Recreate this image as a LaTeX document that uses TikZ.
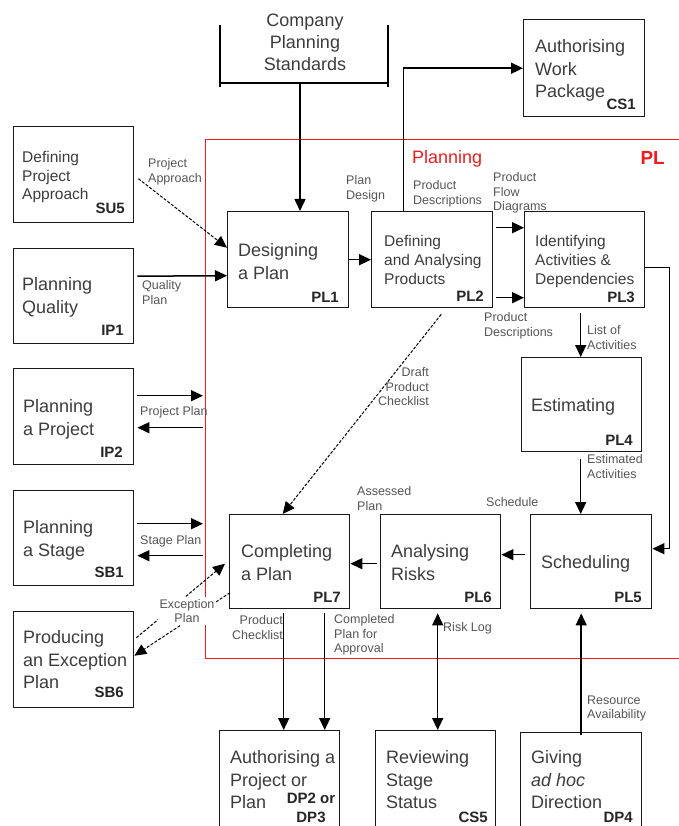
\documentclass[tikz,border=0pt]{standalone}
\usepackage{fontspec}
\setmainfont{Liberation Sans}
\usetikzlibrary{arrows.meta}
\definecolor{txt}{HTML}{3C3C3C}
\definecolor{lbl}{HTML}{555555}
\definecolor{frame}{HTML}{F01C1C}
\begin{document}
\begin{tikzpicture}[x=1pt,y=-1pt,
  box/.style={draw=black!90, line width=1.4pt, anchor=north west, inner sep=0pt},
  big/.style={inner sep=0pt, anchor=north west, text=txt, align=left, font=\fontsize{18}{22.3}\selectfont},
  mid/.style={inner sep=0pt, anchor=north west, text=txt, align=left, font=\fontsize{15.5}{18.7}\selectfont},
  code/.style={inner sep=0pt, anchor=east, text=black!85, font=\bfseries\fontsize{15}{19.5}\selectfont},
  lab/.style={inner sep=0pt, anchor=north west, text=lbl, align=left, font=\fontsize{12.5}{14.5}\selectfont},
  tip/.tip={Triangle[length=12pt,width=11pt]},
  arr/.style={line width=1.5pt, -tip},
  dsh/.style={line width=1pt, dash pattern=on 3pt off 1.6pt},
]
\useasboundingbox (0,0) rectangle (678,826);

% Planning process frame
\node[box, draw=frame, line width=1.3pt, minimum width=520, minimum height=519] (plframe) at (205,139) {};
\node[inner sep=0pt, anchor=north west, text=frame, font=\fontsize{18}{22}\selectfont] (plname) at (412,150.5) {Planning};
\node[inner sep=0pt, anchor=east, text=frame, font=\bfseries\fontsize{19}{22}\selectfont] (plcode) at (665,158) {PL};

% Company Planning Standards bracket
\node[inner sep=0pt, anchor=north, text=txt, align=center, font=\fontsize{18}{22.3}\selectfont] (cps) at (305,13.5) {Company\\Planning\\Standards};
\draw[line width=2.6pt] (220,25) -- (220,87) (388,25) -- (388,87);
\draw[line width=2.2pt] (220,83) -- (388,83);
\coordinate (cpsfoot) at (300,84);

% Process boxes
\node[box, minimum width=120, minimum height=96] (su5) at (13,126) {};
\node[box, minimum width=120, minimum height=95] (ip1) at (13,248) {};
\node[box, minimum width=120, minimum height=96] (ip2) at (13,368) {};
\node[box, minimum width=120, minimum height=95] (sb1) at (13,490) {};
\node[box, minimum width=120, minimum height=96] (sb6) at (13,611) {};
\node[box, minimum width=121, minimum height=97] (cs1) at (523,19) {};
\node[box, minimum width=121, minimum height=96] (pl1) at (227,211) {};
\node[box, minimum width=121, minimum height=96] (pl2) at (371,211) {};
\node[box, minimum width=120, minimum height=96] (pl3) at (524,211) {};
\node[box, minimum width=120, minimum height=94] (pl4) at (521,357) {};
\node[box, minimum width=121, minimum height=94] (pl5) at (530,514) {};
\node[box, minimum width=120, minimum height=94] (pl6) at (380,514) {};
\node[box, minimum width=120, minimum height=94] (pl7) at (229,514) {};
\node[box, minimum width=120, minimum height=120] (dp23) at (219,730) {};
\node[box, minimum width=120, minimum height=120] (cs5) at (375,730) {};
\node[box, minimum width=121, minimum height=120] (dp4) at (520,732) {};

% Box titles
\node[mid] (su5t) at (22,151) {Defining\\Project\\Approach};
\node[big] (ip1t) at (22,277.5) {Planning\\Quality};
\node[big] (ip2t) at (23,399.5) {Planning\\a Project};
\node[big] (sb1t) at (23,520.5) {Planning\\a Stage};
\node[big] (sb6t) at (23,630.5) {Producing\\an Exception\\Plan};
\node[big] (cs1t) at (535,39.5) {Authorising\\Work\\Package};
\node[big] (pl1t) at (238,243.5) {Designing\\a Plan};
\node[mid] (pl2t) at (384,235.4) {Defining\\and Analysing\\Products};
\node[mid] (pl3t) at (535,235.4) {Identifying\\Activities \&\\Dependencies};
\node[big] (pl4t) at (531,398.5) {Estimating};
\node[big] (pl5t) at (541,555.5) {Scheduling};
\node[big] (pl6t) at (391,544.5) {Analysing\\Risks};
\node[big] (pl7t) at (241,544.5) {Completing\\a Plan};
\node[big] (dp23t) at (230,750.5) {Authorising a\\Project or\\Plan};
\node[big] (cs5t) at (386,750.5) {Reviewing\\Stage\\Status};
\node[big] (dp4t) at (531,750.5) {Giving\\\textit{ad hoc}\\Direction};

% Process codes
\node[code] (su5c) at (125,208) {SU5};
\node[code] (ip1c) at (124,330) {IP1};
\node[code] (ip2c) at (123,452) {IP2};
\node[code] (sb1c) at (124,572) {SB1};
\node[code] (sb6c) at (124,692) {SB6};
\node[code] (cs1c) at (636,104) {CS1};
\node[code] (pl1c) at (339,297) {PL1};
\node[code] (pl2c) at (484,296) {PL2};
\node[code] (pl3c) at (635,297) {PL3};
\node[code] (pl4c) at (633,440) {PL4};
\node[code] (pl5c) at (642,597) {PL5};
\node[code] (pl6c) at (492,597) {PL6};
\node[code] (pl7c) at (341,597) {PL7};
\node[code, anchor=center, align=center] (dp23c) at (311,808) {DP2 or\\DP3};
\node[code] (cs5c) at (488,817) {CS5};
\node[code] (dp4c) at (633,817) {DP4};

% Flows
\draw[arr] (cpsfoot) -- (cpsfoot |- pl1.north);
\draw[arr] ([xshift=-28.5]pl2.north) |- (cs1.west);
\draw[arr, dsh] ([xshift=4,yshift=-4]su5.east) -- ([yshift=12]pl1.west);
\draw[arr] ([xshift=3,yshift=20]ip1.east) -- ([yshift=-16]pl1.west);
\draw[arr] (pl1.east) -- (pl2.west);
\draw[arr] ([xshift=3,yshift=32]pl2.east) -- ([yshift=32]pl3.west);
\draw[arr] ([xshift=3,yshift=-38]pl2.east) -- ([yshift=-38]pl3.west);
\draw[arr] ([yshift=-8]pl3.east) -- ++(24,0) |- ([yshift=13]pl5.east);
\coordinate (l34) at ([xshift=-4,yshift=-5]pl3.south);
\draw[arr] (l34) -- (l34 |- pl4.north);
\coordinate (l45) at ([xshift=-1,yshift=-7]pl4.south);
\draw[arr] (l45) -- (l45 |- pl5.north);
\draw[arr] ([xshift=-5,yshift=7]pl5.west) -- ([yshift=7]pl6.east);
\draw[arr] ([xshift=-3,yshift=-2]pl6.west) -- ([yshift=-2]pl7.east);
\draw[arr, dsh] ([xshift=9,yshift=-6]pl2.south) -- ([xshift=-7]pl7.north);

\coordinate (ip2a) at ([xshift=3,yshift=21]ip2.east);
\coordinate (ip2b) at ([xshift=3,yshift=-11]ip2.east);
\draw[arr] (ip2a) -- ([xshift=-2]ip2a -| plframe.west);
\draw[arr] ([xshift=-2]ip2b -| plframe.west) -- (ip2b);
\coordinate (sb1a) at ([xshift=3,yshift=14.5]sb1.east);
\coordinate (sb1b) at ([xshift=3,yshift=-17.5]sb1.east);
\draw[arr] (sb1a) -- ([xshift=-2]sb1a -| plframe.west);
\draw[arr] ([xshift=-2]sb1b -| plframe.west) -- (sb1b);

\draw[arr, dsh] ([xshift=2,yshift=22]sb6.east) -- ([xshift=-4,yshift=-2]pl7.west);
\draw[arr, dsh] ([xshift=1,yshift=-31]pl7.west) -- ([yshift=4]sb6.east);

\coordinate (c7a) at ([xshift=-6,yshift=-4]pl7.south);
\coordinate (c7b) at ([xshift=35,yshift=-4]pl7.south);
\draw[arr] (c7a) -- (c7a |- dp23.north);
\draw[arr] (c7b) -- (c7b |- dp23.north);
\coordinate (c6) at ([xshift=-3,yshift=-4]pl6.south);
\draw[arr, tip-tip] (c6) -- (c6 |- cs5.north);
\coordinate (d4) at ([yshift=-3]dp4.north);
\draw[arr] (d4) -- ([yshift=-4]d4 |- pl5.south);

% Flow labels
\node[lab] (lpa) at (148,158.5) {Project\\Approach};
\node[lab] (lqp) at (142,280.5) {Quality\\Plan};
\node[lab] (lpd) at (346,175.5) {Plan\\Design};
\node[lab] (lpdt) at (413,180.5) {Product\\Descriptions};
\node[lab] (lpfd) at (493,172.5) {Product\\Flow\\Diagrams};
\node[lab] (lpdb) at (484,312.5) {Product\\Descriptions};
\node[lab] (lla) at (587,325.5) {List of\\Activities};
\node[lab] (lea) at (587,454.5) {Estimated\\Activities};
\node[lab] (lsch) at (486,497.5) {Schedule};
\node[lab] (lap) at (357,486.5) {Assessed\\Plan};
\node[lab, anchor=north east, align=right] (ldpc) at (429,367.5) {Draft\\Product\\Checklist};
\node[lab] (lpp) at (140,406.5) {Project Plan};
\node[lab] (lsp) at (140,535.5) {Stage Plan};
\node[lab, anchor=north east, align=right] (lpc) at (283,615.5) {Product\\Checklist};
\node[lab] (lcp) at (334,614.5) {Completed\\Plan for\\Approval};
\node[lab] (lrl) at (443,622.5) {Risk Log};
\node[lab] (lra) at (587,695.5) {Resource\\Availability};
\node[lab, anchor=center, align=center, fill=white, inner sep=2pt] (lex) at (187,611) {Exception\\Plan};
\end{tikzpicture}
\end{document}
